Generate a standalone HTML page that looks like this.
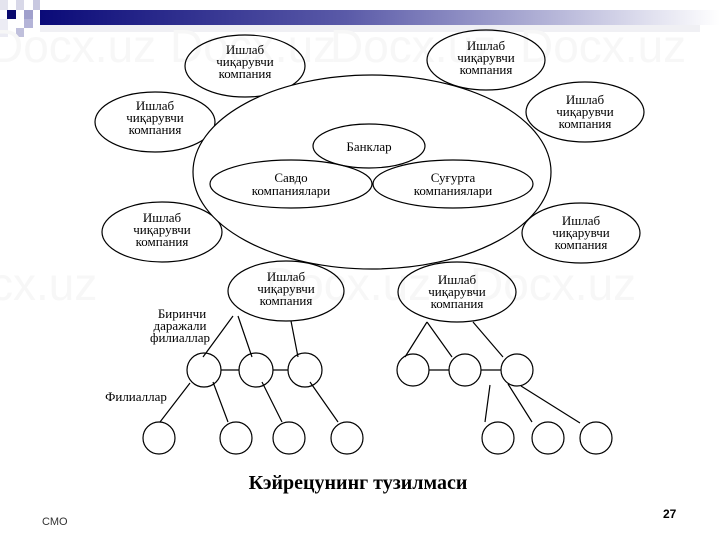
<!DOCTYPE html>
<html><head><meta charset="utf-8"><style>
body{margin:0;width:720px;height:540px;background:#fff;overflow:hidden;position:relative}
svg{position:absolute;left:0;top:0}
</style></head><body>
<svg width="720" height="540" viewBox="0 0 720 540" xmlns="http://www.w3.org/2000/svg">
<defs><linearGradient id="g" x1="0" x2="1"><stop offset="0" stop-color="#0a0a78"/><stop offset="0.45" stop-color="#5a5aa8"/><stop offset="1" stop-color="#ffffff"/></linearGradient></defs>
<rect x="40" y="10" width="680" height="15" fill="url(#g)"/>
<rect x="40" y="25" width="660" height="7" fill="#f0f0f4"/>
<rect x="0" y="0" width="8" height="10" fill="#e4e4ee"/>
<rect x="7" y="10" width="9" height="9" fill="#0a0a6e"/>
<rect x="16" y="0" width="8" height="10" fill="#d8d8e8"/>
<rect x="24" y="10" width="9" height="9" fill="#a0a0cc"/>
<rect x="33" y="0" width="7" height="10" fill="#c8c8e0"/>
<rect x="24" y="19" width="9" height="9" fill="#b4b4d8"/>
<rect x="16" y="28" width="8" height="9" fill="#c0c0dc"/>
<rect x="0" y="19" width="8" height="18" fill="#ececf4"/>
<g font-family="Liberation Sans, sans-serif" font-size="46" fill="#f7f7f7">
<text x="-10" y="62">Docx.uz</text><text x="170" y="62">Docx.uz</text><text x="330" y="62">Docx.uz</text><text x="520" y="62">Docx.uz</text>
<text x="-10" y="300">cx.uz</text><text x="265" y="300">Docx.uz</text><text x="470" y="300">Docx.uz</text>
</g>
<g fill="none" stroke="#000" stroke-width="1.2">
<ellipse cx="245" cy="66" rx="60" ry="31"/>
<ellipse cx="486" cy="60" rx="59" ry="30"/>
<ellipse cx="155" cy="122" rx="60" ry="30"/>
<ellipse cx="585" cy="112" rx="59" ry="30"/>
<ellipse cx="162" cy="232" rx="60" ry="30"/>
<ellipse cx="581" cy="233" rx="59" ry="30"/>
<ellipse cx="372" cy="172" rx="179" ry="97" fill="#fff"/>
<ellipse cx="369" cy="146" rx="56" ry="22"/>
<ellipse cx="291" cy="184" rx="81" ry="24"/>
<ellipse cx="453" cy="184" rx="80" ry="24"/>
<ellipse cx="286" cy="291" rx="58" ry="30"/>
<ellipse cx="457" cy="292" rx="59" ry="30"/>
<circle cx="204" cy="370" r="17"/><circle cx="256" cy="370" r="17"/><circle cx="305" cy="370" r="17"/>
<circle cx="413" cy="370" r="16"/><circle cx="465" cy="370" r="16"/><circle cx="517" cy="370" r="16"/>
<circle cx="159" cy="438" r="16"/><circle cx="236" cy="438" r="16"/><circle cx="289" cy="438" r="16"/><circle cx="347" cy="438" r="16"/>
<circle cx="498" cy="438" r="16"/><circle cx="548" cy="438" r="16"/><circle cx="596" cy="438" r="16"/>
<path d="M233 316L203 357M238 316L252 357M291 321L298 357M427 322L405 357M427 322L452 357M473 322L503 357"/>
<path d="M221 370H239M273 370H288M429 370H449M481 370H501"/>
<path d="M190 383L160 422M213 382L228 422M262 382L282 422M310 382L338 422M490 385L485 422M508 384L532 422M521 386L580 423"/>
</g>
<g font-family="Liberation Serif, serif" font-size="13" text-anchor="middle" fill="#000">
<text x="245" y="54">Ишлаб</text><text x="245" y="66">чиқарувчи</text><text x="245" y="78">компания</text>
<text x="486" y="50">Ишлаб</text><text x="486" y="62">чиқарувчи</text><text x="486" y="74">компания</text>
<text x="155" y="110">Ишлаб</text><text x="155" y="122">чиқарувчи</text><text x="155" y="134">компания</text>
<text x="585" y="104">Ишлаб</text><text x="585" y="116">чиқарувчи</text><text x="585" y="128">компания</text>
<text x="162" y="222">Ишлаб</text><text x="162" y="234">чиқарувчи</text><text x="162" y="246">компания</text>
<text x="581" y="225">Ишлаб</text><text x="581" y="237">чиқарувчи</text><text x="581" y="249">компания</text>
<text x="369" y="151">Банклар</text>
<text x="291" y="182">Савдо</text><text x="291" y="195">компаниялари</text>
<text x="453" y="182">Суғурта</text><text x="453" y="195">компаниялари</text>
<text x="286" y="281">Ишлаб</text><text x="286" y="293">чиқарувчи</text><text x="286" y="305">компания</text>
<text x="457" y="284">Ишлаб</text><text x="457" y="296">чиқарувчи</text><text x="457" y="308">компания</text>
<text x="182" y="318">Биринчи</text><text x="180" y="330">даражали</text><text x="180" y="342">филиаллар</text>
<text x="136" y="401">Филиаллар</text>
</g>
<text x="358" y="489" font-family="Liberation Serif, serif" font-size="20" font-weight="bold" text-anchor="middle">Кэйрецунинг тузилмаси</text>
<text x="42" y="525" font-family="Liberation Sans, sans-serif" font-size="11" fill="#333">СМО</text>
<text x="663" y="518" font-family="Liberation Sans, sans-serif" font-size="12" font-weight="bold">27</text>
</svg>
</body></html>
